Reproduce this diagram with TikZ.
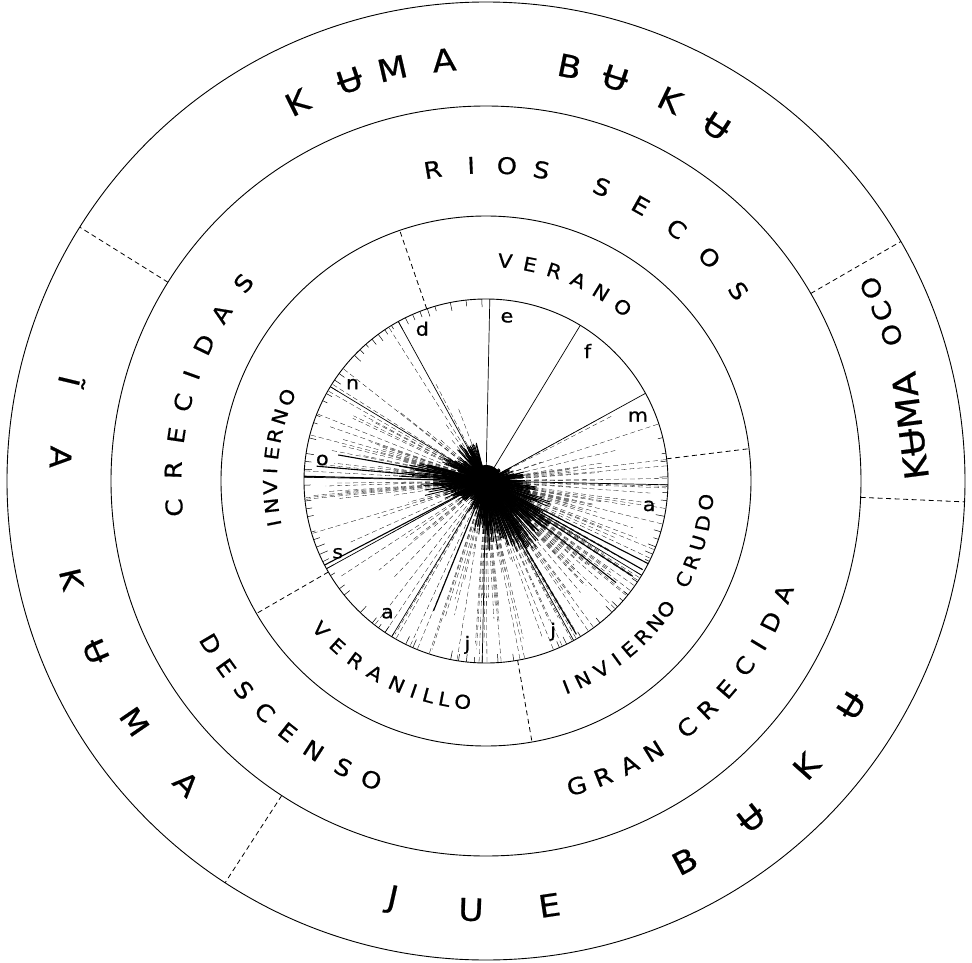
\documentclass[tikz,border=0pt]{standalone}
\usepackage{fontspec}
\setmainfont{DejaVu Sans}[FakeStretch=1.12,FakeBold=0.6]
\begin{document}
\begin{tikzpicture}[x=1pt,y=1pt,
  ring/.style={line width=0.9pt},
  divide/.style={line width=0.8pt,dash pattern=on 5pt off 3.5pt},
  spoke/.style={line width=0.7pt},
  ray/.style={line width=0.3pt,dash pattern=on 5pt off 3pt},
  core/.style={line width=0.9pt},
  tick/.style={line width=0.5pt},
  outertxt/.style={font=\fontsize{31}{31}\selectfont,inner sep=0pt},
  midtxt/.style={font=\fontsize{23}{23}\selectfont,inner sep=0pt},
  innertxt/.style={font=\fontsize{19}{19}\selectfont,inner sep=0pt},
  monthtxt/.style={font=\fontsize{18.5}{18.5}\selectfont,inner sep=0pt}]
\useasboundingbox (-486,-481) rectangle (486,481);
\coordinate (c) at (0,0);

% rays of the clock
\pgfmathsetseed{1907}
\def\rayprob{{0.02,0.02,0,0.03,0.1,0.35,0.4,0.35,0.55,0.55,0.45,0.4,0.35,0.2,0.08,0.12,0.2,0.35,0.55,0.3,0.12,0.12,0.06,0.03}}
\def\corelen{{15,12,10,18,30,40,55,70,80,85,80,70,55,35,25,35,45,70,90,50,40,45,40,15}}
\def\tickprob{{0,0,0,0,0.1,0.3,0.6,0.6,0.7,0.7,0.6,0.6,0.5,0.4,0.4,0.5,0.5,0.7,0.9,0.9,0.9,0.9,0.8,0.4}}
\foreach \a in {0,0.5,...,359.5}{
  \pgfmathtruncatemacro\b{floor(\a/15)}
  \pgfmathsetmacro\p{\rayprob[\b]}
  \pgfmathsetmacro\u{rnd}
  \pgfmathsetmacro\len{min(182,182*(0.3+0.9*rnd))}
  \pgfmathsetmacro\k{\corelen[\b]*(0.3+0.7*rnd)}
  \ifdim\u pt<\p pt \draw[ray] (c) -- (88.8-\a:\len); \fi
  \draw[core] (c) -- (88.8-\a:\k);
}
\foreach \a in {0,2.5,...,357.5}{
  \pgfmathtruncatemacro\b{floor(\a/15)}
  \pgfmathsetmacro\p{\tickprob[\b]}
  \pgfmathsetmacro\u{rnd}
  \pgfmathsetmacro\tl{182-4-5*rnd}
  \ifdim\u pt<\p pt \draw[tick] (88.8-\a:182) -- (88.8-\a:\tl); \fi
}
\fill (c) circle (16);
\foreach \t/\l in {-27/182,-29.5/180,-33/175,-38/165,-59.5/178,178.5/182,175/170,170/150,-152.5/182,-112/140}
  \draw[line width=1.1pt] (c) -- (\t:\l);
\foreach \k in {0,...,11}
  \draw[spoke] (c) -- (88.8-30*\k:182);

% rings and dashed limits
\draw[ring] (c) circle (479);
\draw[ring] (c) circle (375);
\draw[ring] (c) circle (265);
\draw[ring] (c) circle (182);
\foreach \t in {148,30,-2.5,237}
  \draw[divide] (\t:375) -- (\t:479);
\foreach \t in {109,7,210,280}
  \draw[divide] (\t:182) -- (\t:265);

% months
\foreach \t/\m [count=\i] in {82.7/e,52/f,23/m,-8.7/a,-66/j,-96.5/j,-126.7/a,-154/s,172.7/o,144/n,112.7/d}
  \node[monthtxt] (mo\i) at (\t:165) {\m};

% outer ring
\foreach \t/\ch [count=\i] in {116.5/K,108.8/Ʉ,102.8/M,95.7/A,78.6/B,72.2/Ʉ,64.2/K,57/Ʉ}
  \node[outertxt,rotate=\t-90] (top\i) at (\t:423) {\ch};
\node[outertxt,font=\fontsize{33}{33}\selectfont,rotate=97.4] (kuma) at (7.4:428) {KɄMA};
\foreach \t/\ch [count=\i] in {19.8/O,23.2/C,26.6/O}
  \node[outertxt,font=\fontsize{25}{25}\selectfont,rotate=\t+90] (oco\i) at (\t:431) {\ch};
\foreach \t/\ch [count=\i] in {166.5/Ĩ,176.8/A,193.3/K,203.6/Ʉ,214.4/M,225.3/A}
  \node[outertxt,font=\fontsize{29}{29}\selectfont,rotate=\t+90] (lft\i) at (\t:426) {\ch};
\foreach \t/\ch [count=\i] in {-102.6/J,-92/U,-81.5/E,-62.4/B,-51.8/Ʉ,-41.7/K,-31.6/Ʉ}
  \node[outertxt,rotate=\t+90] (bot\i) at (\t:429) {\ch};

% middle ring
\foreach \t/\ch [count=\i] in {99.7/R,92.7/I,86.2/O,79.9/S,68.5/S,60.7/E,52.9/C,45/O,37/S}
  \node[midtxt,rotate=\t-90] (rs\i) at (\t:316) {\ch};
\foreach \t/\ch [count=\i] in {184.9/C,178/R,171.6/E,165.5/C,160.2/I,154.2/D,147.7/A,140.8/S}
  \node[midtxt,rotate=\t-90] (cr\i) at (\t:313) {\ch};
\foreach \t/\ch [count=\i] in {210.6/D,215.7/E,220.8/S,226.3/C,231.7/E,237.4/N,243.5/S,249/O}
  \node[midtxt,rotate=\t+90] (de\i) at (\t:320) {\ch};
\foreach \t/\ch [count=\i] in {-73.4/G,-68.4/R,-63.2/A,-58.2/N,-50.8/C,-45.9/R,-40.9/E,-35.6/C,-31/I,-26.3/D,-20.8/A}
  \node[midtxt,rotate=\t+90] (gc\i) at (\t:318) {\ch};

% inner ring
\foreach \t/\ch [count=\i] in {85/V,78.5/E,72/R,65.3/A,58.6/N,51.8/O}
  \node[innertxt,rotate=\t-90] (ve\i) at (\t:221) {\ch};
\foreach \t/\ch [count=\i] in {191.3/I,186.6/N,181.7/V,177.3/I,172.6/E,167.9/R,162.7/N,157.2/O}
  \node[innertxt,rotate=\t-90] (in\i) at (\t:216) {\ch};
\foreach \t/\ch [count=\i] in {222/V,228/E,234/R,240/A,246.3/N,251/I,255/L,259.2/L,264/O}
  \node[innertxt,rotate=\t+90] (vl\i) at (\t:222) {\ch};
\foreach \t/\ch [count=\i] in {-68.7/I,-64/N,-58.5/V,-53.8/I,-49.6/E,-44.8/R,-40/N,-35.5/O,-26.5/C,-21.5/R,-16.3/U,-11/D,-5.5/O}
  \node[innertxt,rotate=\t+90] (ic\i) at (\t:221) {\ch};
\end{tikzpicture}
\end{document}
